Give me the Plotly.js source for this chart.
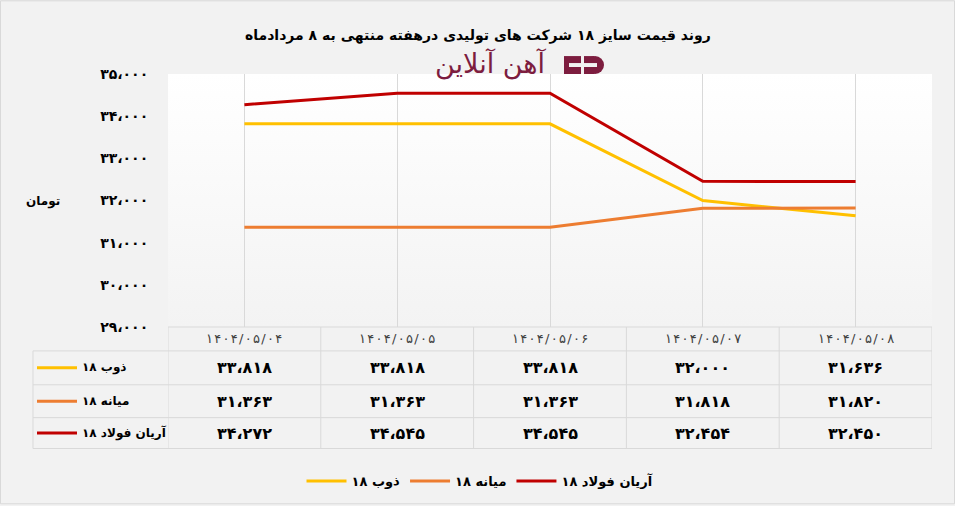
<!DOCTYPE html>
<html>
<head>
<meta charset="utf-8">
<script src="https://cdn.plot.ly/plotly-3.0.1.min.js"></script>
<style>
  html, body { margin: 0; padding: 0; background: #F2F2F2; }
  #chart { width: 955px; height: 506px; }
</style>
</head>
<body>
<div id="chart"></div>
<script>
// ---- Data ----
const dates = ['۱۴۰۴/۰۵/۰۴', '۱۴۰۴/۰۵/۰۵', '۱۴۰۴/۰۵/۰۶', '۱۴۰۴/۰۵/۰۷', '۱۴۰۴/۰۵/۰۸'];
const seriesNames = ['ذوب ۱۸', 'میانه ۱۸', 'آریان فولاد ۱۸'];
const zobValues = [33818, 33818, 33818, 32000, 31636];
const mianehValues = [31363, 31363, 31363, 31818, 31820];
const aryanValues = [34272, 34545, 34545, 32454, 32450];
const yTickValues = [29000, 30000, 31000, 32000, 33000, 34000, 35000];
const titleText = 'روند قیمت سایز ۱۸ شرکت های تولیدی درهفته منتهی به ۸ مردادماه';
const yTitleText = 'تومان';
const logoText = 'آهن آنلاین';

const seriesValues = [zobValues, mianehValues, aryanValues];
const seriesColors = ['#FFC000', '#ED7D31', '#C00000'];

// ---- Helpers ----
const faDigits = '۰۱۲۳۴۵۶۷۸۹';
function toFa(n) {
  const s = Math.round(n).toString().replace(/\B(?=(\d{3})+(?!\d))/g, '،');
  return s.replace(/\d/g, d => faDigits[+d]);
}
function spaced(s) { return s.split('').join('\u200A'); }
const W = 955, H = 506;
const L = 168, R = 932, T = 74, B = 328;
const px2x = px => (px - L) / (R - L);
const px2y = py => (B - py) / (B - T);

const FONT = 'DejaVu Sans, Noto Sans, sans-serif';

// ---- Traces ----
const traces = seriesNames.map((name, i) => ({
  type: 'scatter',
  mode: 'lines',
  name: name,
  x: dates,
  y: seriesValues[i],
  line: { color: seriesColors[i], width: 3 },
  hoverinfo: 'x+y+name'
}));

// ---- Shapes ----
const gridCol = '#D9D9D9';
const shapes = [];
shapes.push({ type: 'rect', xref: 'paper', yref: 'paper', x0: px2x(0.5), x1: px2x(W - 0.5), y0: px2y(0.5), y1: px2y(H - 0.5), line: { color: gridCol, width: 1 }, fillcolor: 'rgba(0,0,0,0)', layer: 'below' });

const rowLines = [352, 386, 419, 450];
shapes.push({ type: 'line', xref: 'paper', yref: 'paper', x0: px2x(L), x1: px2x(R), y0: px2y(B), y1: px2y(B), line: { color: gridCol, width: 1 } });
rowLines.forEach(py => shapes.push({ type: 'line', xref: 'paper', yref: 'paper', x0: px2x(33), x1: px2x(R), y0: px2y(py), y1: px2y(py), line: { color: gridCol, width: 1 } }));
shapes.push({ type: 'line', xref: 'paper', yref: 'paper', x0: px2x(33), x1: px2x(33), y0: px2y(352), y1: px2y(450), line: { color: gridCol, width: 1 } });
for (let k = 0; k <= dates.length; k++) {
  shapes.push({ type: 'line', xref: 'x', yref: 'paper', x0: k - 0.5, x1: k - 0.5, y0: px2y(B), y1: px2y(450), line: { color: gridCol, width: 1 } });
}
const rowCenters = [369, 402.5, 434.5];
seriesNames.forEach((n, i) => {
  shapes.push({ type: 'line', xref: 'paper', yref: 'paper', x0: px2x(37), x1: px2x(77), y0: px2y(rowCenters[i]), y1: px2y(rowCenters[i]), line: { color: seriesColors[i], width: 3 } });
});

// logo icon
const logoCol = '#7D1D3F';
const bg = '#F2F2F2';
const rectPx = (x0, y0, x1, y1, col) => ({ type: 'rect', xref: 'paper', yref: 'paper', x0: px2x(x0), x1: px2x(x1), y0: px2y(y1), y1: px2y(y0), fillcolor: col, line: { width: 0 } });
const circPx = (x0, y0, x1, y1, col) => ({ type: 'circle', xref: 'paper', yref: 'paper', x0: px2x(x0), x1: px2x(x1), y0: px2y(y1), y1: px2y(y0), fillcolor: col, line: { width: 0 } });
shapes.push(rectPx(564, 56, 581, 74, logoCol));
shapes.push(rectPx(569, 63, 581, 67, bg));
shapes.push(rectPx(584, 56, 594, 74, logoCol));
shapes.push(circPx(586, 56, 604, 74, logoCol));
shapes.push(rectPx(584, 63, 597, 67, bg));

// ---- Annotations ----
const annotations = [];
annotations.push({ xref: 'paper', yref: 'paper', x: px2x(478), y: px2y(35), text: '<b>' + titleText + '</b>', showarrow: false, xanchor: 'center', yanchor: 'middle', font: { family: FONT, size: 14, color: '#000' } });
annotations.push({ xref: 'paper', yref: 'paper', x: px2x(491), y: px2y(64), text: logoText, showarrow: false, xanchor: 'center', yanchor: 'middle', font: { family: FONT, size: 27, color: logoCol } });
annotations.push({ xref: 'paper', yref: 'paper', x: px2x(43), y: px2y(202), text: '<b>' + yTitleText + '</b>', showarrow: false, xanchor: 'center', yanchor: 'middle', font: { family: FONT, size: 12, color: '#000' } });
dates.forEach((d, i) => annotations.push({ xref: 'x', yref: 'paper', x: i, y: px2y(340), text: spaced(d), showarrow: false, xanchor: 'center', yanchor: 'middle', font: { family: FONT, size: 13, color: '#404040' } }));
seriesValues.forEach((vals, r) => {
  vals.forEach((v, i) => annotations.push({ xref: 'x', yref: 'paper', x: i, y: px2y(rowCenters[r]), text: '<b>' + toFa(v) + '</b>', showarrow: false, xanchor: 'center', yanchor: 'middle', font: { family: FONT, size: 16, color: '#000' } }));
  annotations.push({ xref: 'paper', yref: 'paper', x: px2x(80), y: px2y(rowCenters[r]), text: '<b>' + seriesNames[r] + '</b>', showarrow: false, xanchor: 'left', yanchor: 'middle', font: { family: FONT, size: 12, color: '#000' } });
});

const gradSvg = "<svg xmlns='http://www.w3.org/2000/svg' width='10' height='100' viewBox='0 0 10 100' preserveAspectRatio='none'><defs><linearGradient id='g' x1='0' y1='0' x2='0' y2='1'><stop offset='0' stop-color='#FFFFFF'/><stop offset='1' stop-color='#F3F3F3'/></linearGradient></defs><rect width='10' height='100' fill='url(#g)'/></svg>";
const gradSrc = 'data:image/svg+xml;charset=utf-8,' + encodeURIComponent(gradSvg);

const layout = {
  width: W, height: H,
  margin: { l: L, r: W - R, t: T, b: H - B, pad: 0 },
  paper_bgcolor: '#F2F2F2',
  plot_bgcolor: 'rgba(0,0,0,0)',
  font: { family: FONT, color: '#000' },
  showlegend: true,
  legend: {
    orientation: 'h', x: px2x(480), xanchor: 'center', y: px2y(481), yanchor: 'middle',
    font: { family: FONT, size: 13, color: '#000', weight: 'bold' },
    bgcolor: 'rgba(0,0,0,0)', itemwidth: 40, traceorder: 'normal'
  },
  xaxis: {
    type: 'category', range: [-0.5, dates.length - 0.5], showticklabels: false,
    showgrid: true, gridcolor: gridCol, gridwidth: 1, zeroline: false, showline: false, ticks: '', fixedrange: true
  },
  yaxis: {
    range: [29000, 35000], tickvals: yTickValues, ticktext: yTickValues.map(toFa),
    showgrid: false, zeroline: false, showline: false,
    ticks: 'outside', ticklen: 16, tickcolor: 'rgba(0,0,0,0)',
    tickfont: { family: FONT, size: 14, color: '#000', weight: 'bold' }, fixedrange: true
  },
  images: [{ source: gradSrc, xref: 'paper', yref: 'paper', x: 0, y: 1, sizex: 1, sizey: 1, sizing: 'stretch', xanchor: 'left', yanchor: 'top', layer: 'below' }],
  shapes: shapes,
  annotations: annotations
};

Plotly.newPlot('chart', traces, layout, { displayModeBar: false, staticPlot: true });
</script>
</body>
</html>
